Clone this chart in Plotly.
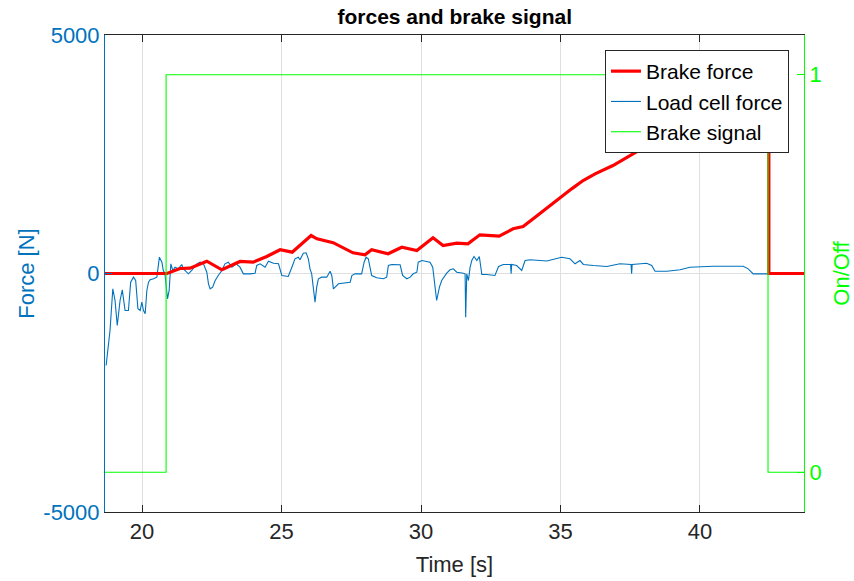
import plotly.graph_objects as go

# ---------------- data ----------------
t_brake = [18.67, 20.89, 21.36, 21.72, 22.32, 22.86, 23.51, 23.98, 24.47, 24.95,
           25.38, 26.06, 26.27, 26.85, 27.56, 27.99, 28.23, 28.82, 29.31, 29.85,
           30.43, 30.79, 31.28, 31.68, 32.11, 32.80, 33.30, 33.66, 34.09, 34.62,
           35.40, 35.81, 36.24, 36.88, 37.60, 38.32, 39.20, 40.00, 41.00, 42.00,
           42.47, 42.47, 43.73]
f_brake = [0, 0, 105, 111, 258, 78, 252, 237, 356, 497,
           447, 796, 727, 646, 434, 392, 497, 413, 551, 482,
           748, 587, 635, 623, 811, 782, 937, 985, 1180, 1425,
           1775, 1949, 2090, 2264, 2509, 2752, 3020, 3250, 3550, 3800,
           3950, 0, 0]

t_load = [18.71, 18.85, 18.95, 19.03, 19.11, 19.21, 19.29, 19.39, 19.51, 19.59,
          19.69, 19.77, 19.85, 19.93, 19.99, 20.05, 20.11, 20.17, 20.23, 20.29,
          20.41, 20.53, 20.62, 20.71, 20.76, 20.82, 20.91, 20.97, 21.03, 21.10,
          21.18, 21.30, 21.42, 21.48, 21.66, 21.78, 21.96, 22.08, 22.20, 22.32,
          22.38, 22.44, 22.53, 22.62, 22.73, 22.86, 22.97, 23.09, 23.22, 23.37,
          23.51, 23.63, 23.87, 24.05, 24.11, 24.23, 24.41, 24.53, 24.71, 24.89,
          25.01, 25.24, 25.37, 25.48, 25.60, 25.66, 25.78, 25.88, 25.96, 26.02,
          26.08, 26.14, 26.20, 26.26, 26.32, 26.44, 26.62, 26.74, 26.80, 26.86,
          26.92, 27.04, 27.46, 27.52, 27.63, 27.87, 27.96, 28.03, 28.11, 28.17,
          28.23, 28.41, 28.65, 28.77, 28.83, 28.95, 29.25, 29.34, 29.49, 29.61,
          29.72, 29.85, 29.90, 30.03, 30.32, 30.42, 30.50, 30.56, 30.66, 30.74,
          30.92, 31.04, 31.16, 31.28, 31.52, 31.58, 31.60, 31.64, 31.70, 31.76,
          31.82, 31.90, 32.00, 32.09, 32.18, 32.35, 32.65, 32.78, 32.95, 33.21,
          33.23, 33.25, 33.43, 33.61, 33.73, 33.91, 34.51, 35.04, 35.34, 35.52,
          35.70, 35.82, 36.18, 36.66, 37.13, 37.53, 37.55, 37.57, 38.09, 38.27,
          38.39, 38.81, 39.29, 39.64, 40.48, 41.55, 41.73, 41.91, 42.39, 43.73]
f_load = [-1928, -1195, -321, -566, -1090, -566, -342, -776, -776, -182,
          -77, -147, -740, -776, -601, -776, -845, -356, -182, -132,
          -111, -77, 342, 237, 63, -7, -530, -356, 203, 63,
          132, 98, 189, 98, -7, 63, 203, 237, 203, 27,
          -216, -321, -287, -147, -42, 63, 203, 237, 132, 203,
          132, -7, -7, 6, 168, 203, 132, 258, 216, 203,
          -42, -63, 132, 308, 342, 287, 425, 434, 308, 98,
          -7, -287, -602, -287, -111, -77, -77, 48, -42, -321,
          -287, -216, -182, -42, -7, -7, 237, 342, 308, 132,
          -42, -90, -111, -77, 168, 189, 182, -42, -111, -77,
          -7, 27, 237, 272, 237, 132, -216, -566, -287, -147,
          6, 78, 98, 27, 6, -7, -916, -7, -147, 132,
          272, 356, 272, 356, -21, -21, -42, 147, 189, 189,
          -7, 189, 168, 63, 272, 287, 262, 342, 308, 203,
          272, 189, 168, 147, 203, 189, -7, 189, 216, 168,
          48, 48, 78, 132, 153, 153, 98, -7, -7, -5]

t_signal = [18.67, 20.86, 20.86, 42.44, 42.44, 43.73]
v_signal = [0, 0, 1, 1, 0, 0]

x_ticks = [20, 25, 30, 35, 40]
y_ticks = [-5000, 0, 5000]
y_tick_labels = ["-5000", "0", "5000"]
y2_ticks = [0, 1]

# ---------------- styling ----------------
BLUE = "#0072BD"
RED = "#FF0000"
GREEN = "#00FF00"
DARK = "#262626"
GRID = "#dfdfdf"
FONT = "Liberation Sans, Arial, Helvetica, sans-serif"

fig = go.Figure()
fig.add_trace(go.Scatter(x=t_load, y=f_load, mode="lines", name="Load cell force",
                         line=dict(color=BLUE, width=1.1), legendrank=2))
fig.add_trace(go.Scatter(x=t_brake, y=f_brake, mode="lines", name="Brake force",
                         line=dict(color=RED, width=3.2), legendrank=1))
fig.add_trace(go.Scatter(x=t_signal, y=v_signal, mode="lines", name="Brake signal",
                         line=dict(color=GREEN, width=1.1), yaxis="y2", legendrank=3))

fig.update_layout(
    width=854, height=581,
    margin=dict(l=105, r=50, t=35, b=69, autoexpand=False),
    paper_bgcolor="white", plot_bgcolor="white",
    font=dict(family=FONT, size=22, color=DARK),
    title=dict(text="<b>forces and brake signal</b>", x=0.5325, xanchor="center",
               y=0.972, yanchor="middle", font=dict(size=21, color="black")),
    xaxis=dict(range=[18.67, 43.73], tickvals=x_ticks, ticks="inside", ticklen=7,
               tickcolor=DARK, showline=True, linecolor=DARK, linewidth=1,
               mirror="ticks", showgrid=True, gridcolor=GRID, zeroline=False,
               tickfont=dict(size=22, color=DARK),
               title=dict(text="Time [s]", font=dict(size=22, color=DARK), standoff=13)),
    yaxis=dict(range=[-5000, 5000], tickvals=y_ticks, ticktext=y_tick_labels,
               ticks="inside", ticklen=7,
               tickcolor=BLUE, showline=True, linecolor=BLUE, linewidth=1,
               showgrid=True, gridcolor=GRID, zeroline=False,
               tickfont=dict(size=22, color=BLUE),
               title=dict(text="Force [N]", font=dict(size=22, color=BLUE), standoff=2)),
    yaxis2=dict(range=[-0.1, 1.1], tickvals=y2_ticks, overlaying="y", side="right",
                ticks="inside", ticklen=7, tickcolor=GREEN, showline=True,
                linecolor=GREEN, linewidth=1, showgrid=False, zeroline=False,
                tickfont=dict(size=22, color=GREEN),
                title=dict(text="On/Off", font=dict(size=22, color=GREEN), standoff=16)),
    legend=dict(x=0.9785, xanchor="right", y=0.9686, yanchor="top",
                bgcolor="white", bordercolor=DARK, borderwidth=1,
                font=dict(size=21, color="black"), tracegroupgap=0),
    showlegend=True,
)

fig.write_html("out.html")
